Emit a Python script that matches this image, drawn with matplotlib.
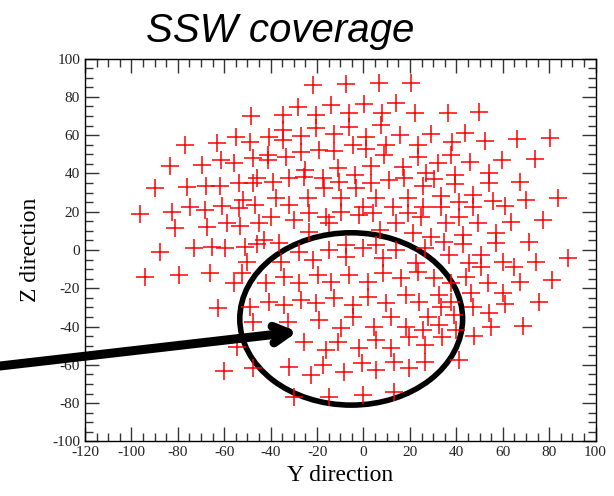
import matplotlib.pyplot as plt
from matplotlib.patches import Ellipse

plt.rcParams['axes.unicode_minus'] = False

# (Y, Z) positions of the coverage points
pts = [
    (-48.5, 70.0), (-76.8, 54.8), (-63.2, 55.7), (-55.0, 58.8), (-48.8, 56.6), (-83.3, 43.8),
    (-69.6, 44.4), (-61.4, 47.0), (-55.6, 45.6), (-47.8, 47.9), (-89.7, 32.5), (-76.1, 32.7),
    (-67.9, 33.6), (-61.7, 33.4), (-53.5, 35.1), (-47.6, 35.1), (-45.9, 37.4), (-96.2, 18.8),
    (-82.3, 20.0), (-74.7, 22.6), (-68.2, 20.9), (-61.0, 23.0), (-53.8, 21.7), (-52.1, 26.1),
    (-46.6, 23.5), (-81.1, 11.3), (-67.5, 12.2), (-58.9, 13.9), (-53.1, 12.5), (-45.2, 14.3),
    (-87.6, -0.9), (-73.2, 0.9), (-65.3, 1.7), (-59.6, 0.9), (-51.0, 1.7), (-45.9, 2.9),
    (-21.9, 86.1), (-7.5, 86.7), (6.6, 87.0), (20.5, 87.4), (-28.3, 74.8), (-14.0, 75.7),
    (0.4, 76.0), (14.0, 76.6), (-34.8, 70.5), (-20.4, 70.5), (-6.4, 71.7), (8.0, 71.3),
    (22.4, 71.3), (-34.8, 62.6), (-20.4, 63.5), (-6.4, 64.4), (7.6, 65.3), (-40.6, 59.2),
    (-34.8, 57.4), (-26.9, 59.5), (-12.5, 60.6), (1.1, 58.8), (15.8, 60.0), (29.0, 60.6),
    (23.4, 54.8), (9.7, 54.8), (-4.6, 54.8), (-19.0, 52.2), (-26.9, 51.3), (-41.3, 49.6),
    (-33.4, 48.7), (-12.5, 51.9), (1.1, 52.6), (9.0, 49.6), (23.4, 48.7), (-41.3, 46.9),
    (-25.0, 41.8), (-11.1, 42.6), (-3.5, 39.1), (3.3, 43.8), (16.9, 43.5), (27.0, 40.0),
    (-39.1, 35.7), (-31.9, 37.4), (-25.5, 38.3), (-17.6, 37.4), (-10.4, 35.7), (-3.2, 32.2),
    (3.3, 34.8), (11.2, 36.5), (17.6, 37.4), (25.5, 33.4), (-37.7, 27.0), (-31.9, 23.5),
    (-24.0, 27.0), (-16.8, 32.2), (-9.7, 27.0), (-0.3, 22.6), (5.4, 27.0), (12.6, 22.6),
    (19.1, 27.0), (25.5, 22.6), (-39.8, 17.4), (-23.3, 19.1), (-16.1, 17.4), (-9.7, 20.0),
    (-1.8, 18.3), (4.0, 19.1), (19.1, 19.1), (24.8, 17.4), (-29.8, 15.6), (-14.7, 13.9),
    (14.0, 13.9), (-36.5, 3.8), (-42.7, 5.2), (-23.3, 9.6), (6.9, 10.4), (21.2, 8.7),
    (-27.6, -0.9), (-14.7, 0.0), (-7.5, 2.6), (-0.3, 0.9), (5.4, 2.6), (14.0, 0.0), (26.3, 0.9),
    (36.2, 71.7), (49.9, 72.2), (38.1, 56.6), (43.9, 61.3), (52.5, 57.1), (66.0, 57.8),
    (80.3, 58.3), (37.7, 49.6), (31.9, 45.2), (45.9, 46.1), (59.7, 47.0), (74.0, 47.3),
    (39.5, 39.1), (30.5, 36.9), (39.5, 34.4), (53.9, 40.0), (53.9, 35.1), (67.4, 35.3),
    (33.4, 28.2), (33.4, 22.6), (41.3, 25.2), (47.3, 28.7), (47.3, 22.6), (55.6, 25.6),
    (61.1, 23.0), (70.0, 26.1), (83.7, 27.0), (35.5, 13.9), (41.0, 17.4), (49.2, 14.3),
    (63.5, 14.8), (77.2, 15.6), (29.1, 6.9), (34.8, 4.3), (42.7, 7.8), (42.7, 3.1),
    (57.1, 8.7), (57.1, 3.8), (71.2, 4.3),
    (37.0, -2.6), (50.6, -2.6), (45.6, -7.0), (50.6, -8.7), (59.9, -6.1), (65.0, -8.7),
    (74.3, -6.1), (88.0, -4.4), (30.5, -14.8), (44.1, -13.9), (37.7, -17.4), (53.5, -17.4),
    (67.4, -16.5), (81.2, -15.7), (32.4, -23.5), (37.7, -27.0), (46.3, -22.6), (60.2, -22.3),
    (33.4, -29.6), (47.0, -29.6), (61.1, -28.2), (75.5, -27.0), (39.1, -33.9), (53.9, -33.1),
    (27.6, -34.8), (32.6, -39.2), (39.8, -41.8), (54.9, -40.4), (68.6, -39.7), (33.8, -45.6),
    (47.7, -44.9), (41.3, -57.4),
    (-35.5, -6.1), (-21.9, -5.2), (-7.5, -3.5), (8.3, -4.4), (22.7, -7.0), (23.4, -11.3),
    (-42.0, -17.4), (-34.1, -13.9), (-27.6, -17.4), (-19.7, -13.1), (-14.0, -16.5), (-6.1, -13.1),
    (1.8, -16.5), (8.3, -12.2), (16.2, -14.8), (-40.6, -27.0), (-34.1, -28.7), (-26.9, -26.1),
    (-20.4, -27.9), (-12.5, -25.2), (-4.6, -28.7), (1.8, -24.4), (9.7, -27.9), (18.4, -23.5),
    (24.1, -27.0), (-32.7, -37.4), (-19.0, -36.6), (-4.6, -34.8), (4.7, -40.0), (11.9, -34.8),
    (18.4, -40.0), (25.5, -41.8), (-25.5, -47.9), (-16.1, -52.2), (-9.7, -40.9), (-11.1, -47.9),
    (-1.8, -51.3), (5.4, -47.0), (12.0, -51.3), (19.8, -45.6), (26.3, -49.6), (-31.9, -60.9),
    (-22.6, -65.3), (-17.6, -60.1), (-8.2, -63.5), (-0.6, -59.2), (5.4, -62.7), (13.3, -58.3),
    (19.8, -61.8), (26.3, -58.3), (-29.8, -76.6), (-14.7, -76.6), (-0.3, -75.7), (13.3, -74.0),
    (-94.1, -13.9), (-79.7, -13.1), (-66.0, -12.2), (-56.0, -17.4), (-52.4, -12.2), (-50.2, -6.1),
    (-62.9, -30.5), (-48.8, -29.6), (-47.4, -37.4), (-54.5, -50.5), (-60.0, -63.0), (-47.4, -61.8),
]
ys = [p[0] for p in pts]
zs = [p[1] for p in pts]

# highlighted region and arrow tip
ell_center = (-5.3, -36.0)
ell_w, ell_h = 96.0, 90.0
arrow_tip = (-28.4, -42.7)

fig = plt.figure(figsize=(6.14, 4.96), dpi=100)
ax = fig.add_axes([0.1384, 0.1099, 0.8316, 0.7721])

ax.plot(ys, zs, '+', color='red', markersize=13, markeredgewidth=1.1, linestyle='none')

ax.add_patch(Ellipse(ell_center, ell_w, ell_h, fill=False, edgecolor='black', linewidth=4))

ax.annotate('', xy=arrow_tip, xycoords='data', xytext=(0.0, 1 - 366 / 496),
            textcoords='figure fraction', annotation_clip=False,
            arrowprops=dict(arrowstyle='->, head_length=1.1, head_width=0.6',
                            color='black', lw=6.5, capstyle='round',
                            shrinkA=0, shrinkB=0))

ax.set_xlim(-120, 100)
ax.set_ylim(-100, 100)
ax.set_xticks(range(-120, 101, 20))
ax.set_yticks(range(-100, 101, 20))
ax.set_xticks(range(-120, 101, 5), minor=True)
ax.set_yticks(range(-100, 101, 5), minor=True)
ax.tick_params(which='both', direction='in', top=True, right=True, color='#333333',
               labelsize=11, labelcolor='#222222')
ax.tick_params(which='major', length=10, width=1)
ax.tick_params(which='minor', length=6, width=1)
for lab in ax.get_xticklabels() + ax.get_yticklabels():
    lab.set_family('Liberation Serif')
for s in ax.spines.values():
    s.set_linewidth(1)

ax.set_xlabel('Y direction', family='Liberation Serif', fontsize=17, labelpad=4)
ax.set_ylabel('Z direction', family='Liberation Serif', fontsize=17, labelpad=8)

fig.text(0.456, 0.915, 'SSW coverage', family='Liberation Sans', style='italic',
         fontsize=29, ha='center', va='baseline')

fig.savefig('out.png', dpi=100)
